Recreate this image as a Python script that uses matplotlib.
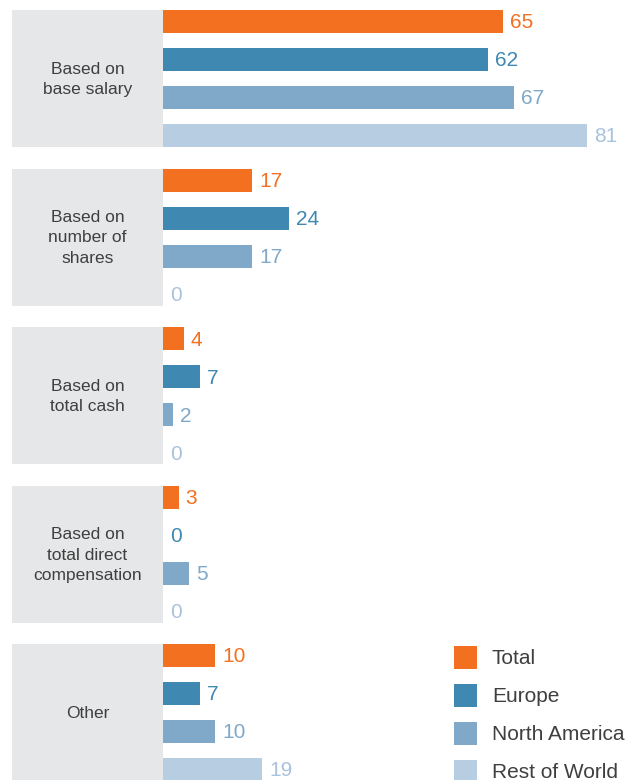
import matplotlib.pyplot as plt
from matplotlib.patches import Rectangle

categories = ["Based on\nbase salary", "Based on\nnumber of\nshares", "Based on\ntotal cash",
              "Based on\ntotal direct\ncompensation", "Other"]
series = ["Total", "Europe", "North America", "Rest of World"]
total = [65, 17, 4, 3, 10]
europe = [62, 24, 7, 0, 7]
north_america = [67, 17, 2, 5, 10]
rest_of_world = [81, 0, 0, 0, 19]

colors = ["#F37021", "#3E88B1", "#7FA8C9", "#B7CDE2"]
label_colors = ["#F37021", "#3E88B1", "#7FA8C9", "#A9C2DC"]
text_color = "#3f3f3f"
box_color = "#E6E7E8"

plt.rcParams['font.family'] = ['Liberation Sans', 'DejaVu Sans']

W, H = 642, 780
px = 5.235            # pixels per percentage point
x0 = 163              # where the bars start
group_top = 10
group_pitch = 158.5
bar_pitch = 38
bar_h = 23
box_h = 137

fig = plt.figure(figsize=(W / 100, H / 100), dpi=100)
ax = fig.add_axes([0, 0, 1, 1])
ax.set_xlim(-x0 / px, (W - x0) / px)
ax.set_ylim(H, 0)
ax.axis('off')

values = [total, europe, north_america, rest_of_world]
for g, cat in enumerate(categories):
    top = group_top + g * group_pitch
    # grey label panel on the left
    ax.add_patch(Rectangle(((12 - x0) / px, top), (x0 - 12) / px, box_h,
                           facecolor=box_color, edgecolor='none'))
    ax.text((12 - x0) / px / 2, top + box_h / 2 + 1, cat, ha='center', va='center',
            fontsize=12.5, color=text_color, linespacing=1.45)
    for i, vals in enumerate(values):
        yc = top + bar_h / 2 + i * bar_pitch
        ax.barh(yc, vals[g], height=bar_h, left=0, color=colors[i])
        ax.text(vals[g] + 7 / px, yc + 1.5, str(vals[g]), ha='left', va='center',
                fontsize=15, color=label_colors[i])

# legend aligned with the last group
last_top = group_top + 4 * group_pitch
for i, name in enumerate(series):
    yc = last_top + bar_h / 2 + i * bar_pitch + 1.5
    ax.add_patch(Rectangle(((454 - x0) / px, yc - bar_h / 2), 23 / px, bar_h,
                           facecolor=colors[i], edgecolor='none'))
    ax.text((492 - x0) / px, yc + 1, name, ha='left', va='center',
            fontsize=15, color=text_color)

fig.savefig("out.png", dpi=100)
